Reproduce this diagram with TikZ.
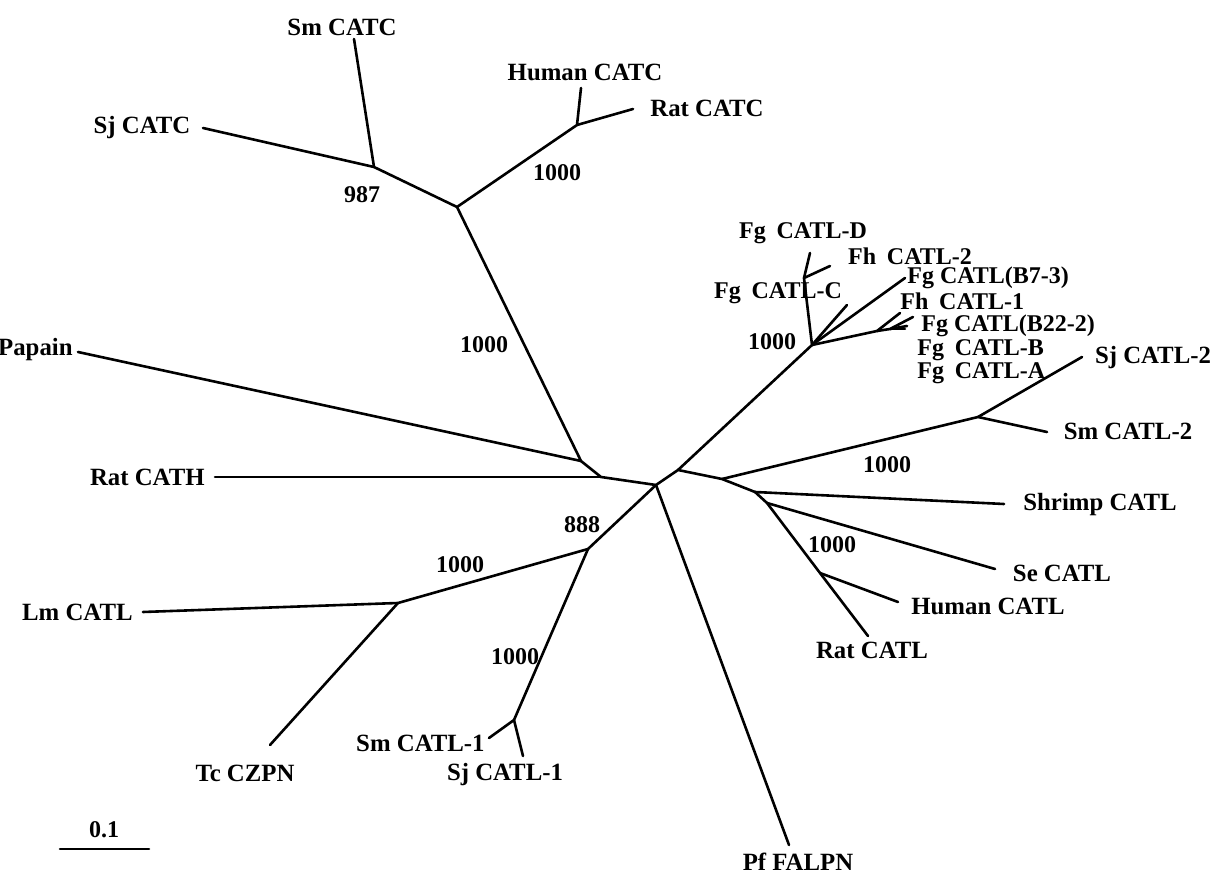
\documentclass[tikz,border=0pt]{standalone}
\usepackage{fontspec}
\setmainfont{Liberation Serif}
\begin{document}
\begin{tikzpicture}[x=0.5pt,y=-0.5pt,
  br/.style={line width=1.3pt, line cap=round, line join=round},
  lab/.style={font=\fontsize{12.4}{14}\bfseries\selectfont, inner sep=0pt},
  flab/.style={font=\fontsize{12}{13}\bfseries\selectfont, inner sep=0pt},
  boot/.style={font=\fontsize{12}{14}\bfseries\selectfont, inner sep=0pt}]
\useasboundingbox (0,0) rectangle (1216,876);
% internal nodes
\coordinate (H) at (656,485);
\coordinate (N1) at (678,470);
\coordinate (P) at (581,461);
\coordinate (Q) at (601,477);
\coordinate (S0) at (457,207);
\coordinate (S1) at (374,167);
\coordinate (S2) at (577,125);
\coordinate (L0) at (588,549);
\coordinate (L1) at (398,603);
\coordinate (L2) at (514,720);
\coordinate (N2) at (722,479);
\coordinate (N3) at (755,492);
\coordinate (N4) at (767,503);
\coordinate (N5) at (820,573);
\coordinate (C2) at (978,417);
\coordinate (FB) at (812,345);
\coordinate (F1) at (804,278);
\coordinate (G1) at (877,331);
\coordinate (G2) at (890,329);
% leaf ends
\coordinate (eSmCATC) at (354,39);
\coordinate (eSjCATC) at (203,128);
\coordinate (eHuCATC) at (581,88);
\coordinate (eRatCATC) at (633,109);
\coordinate (ePapain) at (78,352);
\coordinate (eRatCATH) at (215,477);
\coordinate (eLm) at (143,612);
\coordinate (eTc) at (270,745);
\coordinate (eSmL1) at (489,738);
\coordinate (eSjL1) at (523,756);
\coordinate (ePf) at (789,845);
\coordinate (eRatCATL) at (868,636);
\coordinate (eHuCATL) at (898,602);
\coordinate (eSe) at (995,569);
\coordinate (eShrimp) at (1004,504);
\coordinate (eSmL2) at (1047,432);
\coordinate (eSjL2) at (1082,357);
\coordinate (eFgD) at (810,253);
\coordinate (eFh2) at (830,266);
\coordinate (eFgC) at (847,305);
\coordinate (eB7) at (905,278);
\coordinate (eFh1) at (900,313);
\coordinate (eB22) at (913,317);
\coordinate (eFgB) at (907,326);
\coordinate (eFgA) at (905,329);
% branches
\draw[br] (H) -- (Q) -- (P) -- (S0) -- (S1) -- (eSmCATC);
\draw[br] (S1) -- (eSjCATC);
\draw[br] (S0) -- (S2) -- (eHuCATC);
\draw[br] (S2) -- (eRatCATC);
\draw[br] (P) -- (ePapain);
\draw[br] (Q) -- (eRatCATH);
\draw[br] (H) -- (L0) -- (L1) -- (eLm);
\draw[br] (L1) -- (eTc);
\draw[br] (L0) -- (L2) -- (eSmL1);
\draw[br] (L2) -- (eSjL1);
\draw[br] (H) -- (ePf);
\draw[br] (H) -- (N1) -- (N2) -- (N3) -- (N4) -- (N5) -- (eRatCATL);
\draw[br] (N5) -- (eHuCATL);
\draw[br] (N4) -- (eSe);
\draw[br] (N3) -- (eShrimp);
\draw[br] (N2) -- (C2) -- (eSmL2);
\draw[br] (C2) -- (eSjL2);
\draw[br] (N1) -- (FB) -- (F1) -- (eFgD);
\draw[br] (F1) -- (eFh2);
\draw[br] (FB) -- (eFgC);
\draw[br] (FB) -- (eB7);
\draw[br] (FB) -- (G1) -- (eFh1);
\draw[br] (G1) -- (G2) -- (eB22);
\draw[br] (G2) -- (eFgB);
\draw[br] (G2) -- (eFgA);
% leaf labels
\node[lab] (tSmCATC) at (342,27) {Sm CATC};
\node[lab] (tHuCATC) at (585,72) {Human CATC};
\node[lab] (tRatCATC) at (707,108) {Rat CATC};
\node[lab] (tSjCATC) at (142,128) {Sj CATC};
\node[lab, anchor=east] (tPapain) at (73,350) {Papain};
\node[lab, anchor=east] (tRatCATH) at (205,477) {Rat CATH};
\node[lab, anchor=east] (tLm) at (133,612) {Lm CATL};
\node[lab] (tTc) at (245,773) {Tc CZPN};
\node[lab, anchor=east] (tSmL1) at (485,743) {Sm CATL-1};
\node[lab] (tSjL1) at (505,775) {Sj CATL-1};
\node[lab] (tPf) at (798,862) {Pf FALPN};
\node[lab] (tRatCATL) at (872,650) {Rat CATL};
\node[lab] (tHuCATL) at (988,606) {Human CATL};
\node[lab] (tSe) at (1062,573) {Se CATL};
\node[lab] (tShrimp) at (1100,505) {Shrimp CATL};
\node[lab] (tSmL2) at (1128,431) {Sm CATL-2};
\node[lab] (tSjL2) at (1153,358) {Sj CATL-2};
\node[flab] (tFgD) at (803,233) {Fg\hspace{0.45em}CATL-D};
\node[flab] (tFh2) at (910,256) {Fh\hspace{0.45em}CATL-2};
\node[flab, anchor=west] (tB7) at (907,278) {Fg CATL(B7-3)};
\node[flab] (tFgC) at (778,293) {Fg\hspace{0.45em}CATL-C};
\node[flab, anchor=west] (tFh1) at (900,301) {Fh\hspace{0.45em}CATL-1};
\node[flab, anchor=west] (tB22) at (921,326) {Fg CATL(B22-2)};
\node[flab, anchor=west] (tFgB) at (917,350) {Fg\hspace{0.45em}CATL-B};
\node[flab, anchor=west] (tFgA) at (917,373) {Fg\hspace{0.45em}CATL-A};
% bootstrap values
\node[boot] (b987) at (362,195) {987};
\node[boot] (bCATC) at (557,173) {1000};
\node[boot] (bS0) at (484,345) {1000};
\node[boot] (bFg) at (772,342) {1000};
\node[boot] (bL2) at (887,465) {1000};
\node[boot] (b888) at (582,525) {888};
\node[boot] (bHu) at (832,545) {1000};
\node[boot] (bLm) at (460,565) {1000};
\node[boot] (bSm1) at (515,657) {1000};
% scale bar
\coordinate (sbA) at (60,849);
\coordinate (sbB) at (149,849);
\draw[br] (sbA) -- (sbB);
\node[boot] (tScale) at (104,830) {0.1};
\end{tikzpicture}
\end{document}
